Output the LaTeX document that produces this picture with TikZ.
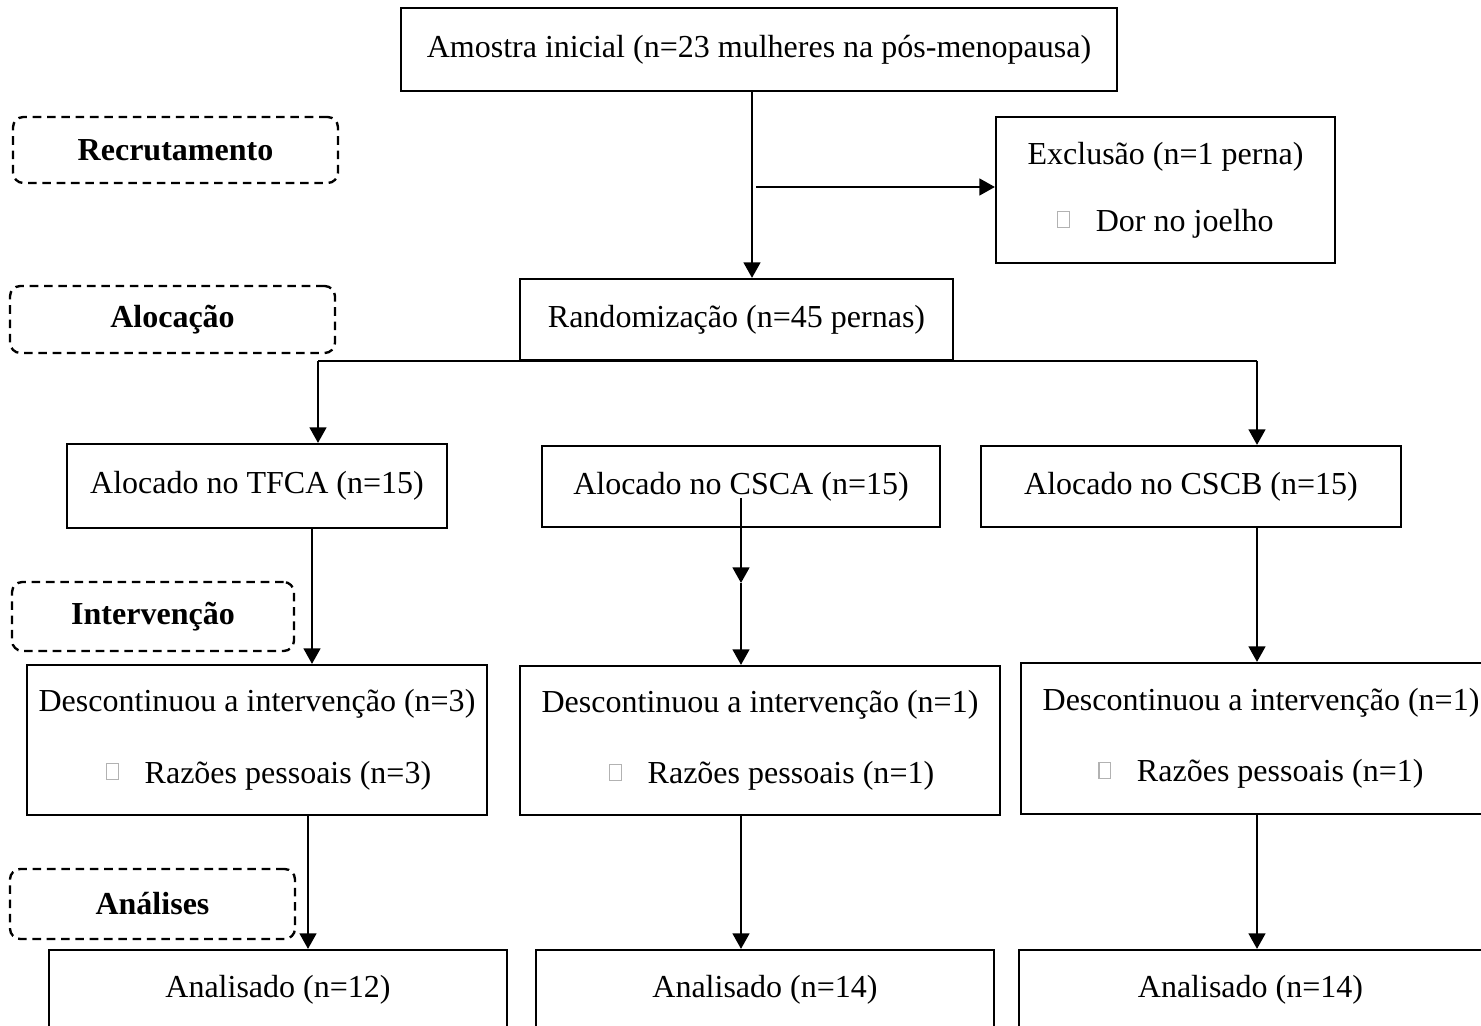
\documentclass[tikz,border=0pt]{standalone}
\usepackage{fontspec}
\setmainfont{Liberation Serif}
\usetikzlibrary{arrows.meta}

% missing bullet glyph, as the picture shows it
\newcommand{\tofu}{{\color{gray!60}\fboxsep=0pt\fboxrule=0.4pt\raisebox{1.6pt}{\fbox{\rule{0pt}{5.8pt}\hspace{4pt}}}}}

\begin{document}
\begin{tikzpicture}[x=0.0135cm,y=-0.0135cm,>={Triangle[length=6pt,width=6.4pt]},
  font=\fontsize{12.3pt}{14.8pt}\selectfont,
  box/.style 2 args={draw,line width=0.8pt,inner sep=0pt,align=center,
    minimum width=#1*0.0135cm,minimum height=#2*0.0135cm},
  phase/.style 2 args={draw,line width=0.9pt,dash pattern=on 3.3pt off 2.2pt,
    rounded corners=4pt,inner sep=0pt,font=\fontsize{12.3pt}{14.8pt}\selectfont\bfseries,
    minimum width=#1*0.0135cm,minimum height=#2*0.0135cm},
  flow/.style={->,line width=1pt}]
\useasboundingbox (0,0) rectangle (1481,1026);

% phases
\node[phase={325}{66}] (recr) at (175.5,150) {Recrutamento};
\node[phase={325}{67}] (aloc) at (172.5,319.5) {Alocação};
\node[phase={282}{69}] (interv) at (153,616.5) {Intervenção};
\node[phase={285}{70}] (anal) at (152.5,904) {Análises};

% boxes
\node[box={716}{83}] (amostra) at (759,49.5) {Amostra inicial (n=23 mulheres na pós-menopausa)};
\node[box={339}{146}] (exclusao) at (1165.5,190) {Exclusão (n=1 perna)\\[10.8pt]\tofu\hspace{10pt}Dor no joelho};
\node[box={433}{81}] (random) at (736.5,319.5) {Randomização (n=45 pernas)};
\node[box={380}{84}] (tfca) at (257,486) {Alocado no TFCA (n=15)};
\node[box={398}{81}] (csca) at (741,486.5) {Alocado no CSCA (n=15)};
\node[box={420}{81}] (cscb) at (1191,486.5) {Alocado no CSCB (n=15)};
\node[box={460}{150}] (descA) at (257,740) {Descontinuou a intervenção (n=3)\\[12.7pt]\hspace*{9pt}\tofu\hspace{10pt}Razões pessoais (n=3)};
\node[box={480}{149}] (descB) at (760,740.5) {Descontinuou a intervenção (n=1)\\[12.7pt]\hspace*{9pt}\tofu\hspace{10pt}Razões pessoais (n=1)};
\node[box={480}{151}] (descC) at (1261,738.5) {Descontinuou a intervenção (n=1)\\[12.7pt]\tofu\hspace{10pt}Razões pessoais (n=1)};
\node[box={458}{80}] (anaA) at (278,990) {Analisado (n=12)};
\node[box={458}{80}] (anaB) at (765,990) {Analisado (n=14)};
\node[box={463}{80}] (anaC) at (1250.5,990) {Analisado (n=14)};

% connectors
\coordinate (trunk) at (752,187);
\coordinate (excl) at (756,187);
\coordinate (bl) at (318,361);
\coordinate (br) at (1257,361);
\coordinate (colA) at (312,0);
\coordinate (colA2) at (308,0);
\coordinate (colC) at (1257,0);
\coordinate (mid) at (741,498);
\coordinate (midhead) at (741,583);

\draw[flow] (amostra.south -| trunk) -- (random.north -| trunk);
\draw[flow] (excl) -- (exclusao.west |- excl);
\draw[line width=1pt] (bl) -- (br);
\draw[flow] (bl) -- (tfca.north -| bl);
\draw[flow] (br) -- (cscb.north -| br);
\draw[flow] (mid) -- (midhead);
\draw[flow] (midhead) -- (descB.north -| midhead);
\draw[flow] (tfca.south -| colA) -- (descA.north -| colA);
\draw[flow] (cscb.south -| colC) -- (descC.north -| colC);
\draw[flow] (descA.south -| colA2) -- (anaA.north -| colA2);
\draw[flow] (descB.south -| mid) -- (anaB.north -| mid);
\draw[flow] (descC.south -| colC) -- (anaC.north -| colC);
\end{tikzpicture}
\end{document}
